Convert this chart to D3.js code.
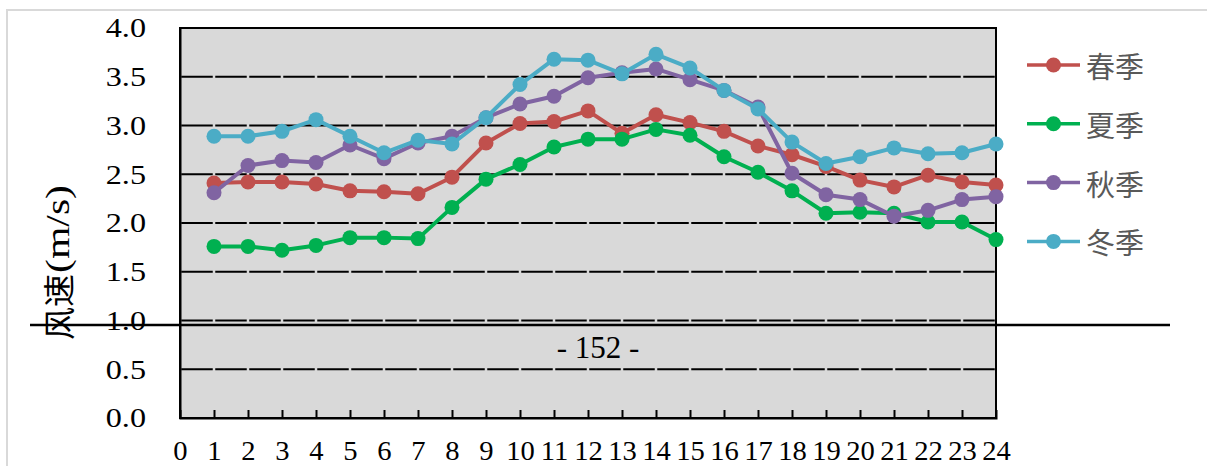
<!DOCTYPE html>
<html>
<head>
<meta charset="utf-8">
<script src="https://cdn.jsdelivr.net/npm/d3@7"></script>
<style>
html,body{margin:0;padding:0;background:#fff;}
svg{display:block;}
</style>
</head>
<body>
<script>
// ---- data ----
const hours = d3.range(1, 25);
const xTickLabels = d3.range(0, 25);
const yTicks = [0, 0.5, 1.0, 1.5, 2.0, 2.5, 3.0, 3.5, 4.0];
const seriesNames = ["春季", "夏季", "秋季", "冬季"];
const spring = [2.41,2.42,2.42,2.40,2.33,2.32,2.30,2.47,2.82,3.02,3.04,3.15,2.92,3.11,3.03,2.94,2.79,2.70,2.58,2.44,2.37,2.49,2.42,2.39];
const summer = [1.76,1.76,1.72,1.77,1.85,1.85,1.84,2.16,2.45,2.60,2.78,2.86,2.86,2.96,2.90,2.68,2.52,2.33,2.10,2.11,2.10,2.01,2.01,1.83];
const autumn = [2.31,2.59,2.64,2.62,2.80,2.66,2.82,2.89,3.08,3.22,3.30,3.49,3.54,3.58,3.47,3.36,3.19,2.51,2.29,2.24,2.07,2.13,2.24,2.27];
const winter = [2.89,2.89,2.94,3.06,2.89,2.72,2.85,2.81,3.08,3.42,3.68,3.67,3.53,3.73,3.59,3.36,3.17,2.83,2.61,2.68,2.77,2.71,2.72,2.81];
const seriesValues = [spring, summer, autumn, winter];
const colors = ["#C0504D", "#00B050", "#8064A2", "#4BACC6"];
const yTitleCJK = "风速";
const yTitleUnit = "(m/s)";
const pageLabel = "- 152 -";

// ---- layout ----
const W = 1207, H = 466;
const L = 180, R = 996, T = 28, B = 418;
const serif = "'Liberation Serif','Times New Roman',serif";
const cjk = "'Noto Sans CJK SC','Noto Sans CJK JP',sans-serif";

const svg = d3.select("body").append("svg").attr("width", W).attr("height", H);

// outer light frame
svg.append("line").attr("x1", 6).attr("x2", W).attr("y1", 10).attr("y2", 10)
  .attr("stroke", "#d9d9d9").attr("stroke-width", 2);
svg.append("line").attr("x1", 7).attr("x2", 7).attr("y1", 9).attr("y2", H)
  .attr("stroke", "#d9d9d9").attr("stroke-width", 2);

const x = d3.scaleLinear().domain([0, 24]).range([L, R]);
const y = d3.scaleLinear().domain([0, 4]).range([B, T]);

// plot background
svg.append("rect").attr("x", L).attr("y", T).attr("width", R - L).attr("height", B - T)
  .attr("fill", "#d9d9d9");

// gridlines
svg.append("g").selectAll("line").data(yTicks.filter(d => d > 0 && d < 4)).join("line")
  .attr("x1", L).attr("x2", R).attr("y1", d => y(d)).attr("y2", d => y(d))
  .attr("stroke", "#000").attr("stroke-width", 2)
  .attr("stroke-dasharray", "31.5,2.5").attr("stroke-dashoffset", -1.25);

// border
svg.append("rect").attr("x", L).attr("y", T).attr("width", R - L).attr("height", B - T)
  .attr("fill", "none").attr("stroke", "#000").attr("stroke-width", 2);

// y axis
const sx = 1.15;
const yAxis = svg.append("g").attr("transform", `translate(${L},0)`)
  .call(d3.axisLeft(y).tickValues(yTicks).tickFormat(d3.format(".1f")).tickSize(0).tickPadding(34));
yAxis.select(".domain").attr("stroke", "#000").attr("stroke-width", 2);
yAxis.selectAll("text")
  .attr("font-family", serif).attr("font-size", 28).attr("fill", "#000")
  .attr("x", -34 / sx).attr("transform", `scale(${sx},1)`);

// x axis
const xAxis = svg.append("g").attr("transform", `translate(0,${B})`)
  .call(d3.axisBottom(x).tickValues(xTickLabels).tickFormat(d3.format("d")).tickSize(-8));
xAxis.select(".domain").attr("stroke", "#000").attr("stroke-width", 2);
xAxis.selectAll(".tick line").attr("stroke", "#000").attr("stroke-width", 2)
  .attr("display", d => (d === 0 || d === 24) ? "none" : null);
xAxis.selectAll("text")
  .attr("font-family", serif).attr("font-size", 27).attr("fill", "#000")
  .attr("y", 42).attr("dy", null).attr("transform", "scale(1.06,1)");

// series
const line = d3.line().x((d, i) => x(hours[i])).y(d => y(d));
seriesValues.forEach((vals, k) => {
  const g = svg.append("g");
  g.append("path").datum(vals).attr("d", line).attr("fill", "none")
    .attr("stroke", colors[k]).attr("stroke-width", 4).attr("stroke-linejoin", "round");
  g.selectAll("circle").data(vals).join("circle")
    .attr("cx", (d, i) => x(hours[i])).attr("cy", d => y(d)).attr("r", 7.5)
    .attr("fill", colors[k]);
});

// page artifact line & number
svg.append("line").attr("x1", 30).attr("x2", 1170).attr("y1", 325).attr("y2", 325)
  .attr("stroke", "#000").attr("stroke-width", 2.5);
svg.append("text").attr("x", 598).attr("y", 358).attr("text-anchor", "middle")
  .attr("font-family", serif).attr("font-size", 31).attr("fill", "#000").text(pageLabel);

// y title (rotated, reading bottom to top)
const yt = svg.append("g").attr("transform", "translate(57,340) rotate(-90)");
yt.append("text").attr("x", 0).attr("y", 0).attr("dominant-baseline", "central")
  .attr("font-family", cjk).attr("font-size", 32).attr("fill", "#000")
  .attr("textLength", 66).attr("lengthAdjust", "spacingAndGlyphs").text(yTitleCJK);
yt.append("text").attr("x", 67).attr("y", 0).attr("dominant-baseline", "central")
  .attr("font-family", serif).attr("font-size", 34).attr("fill", "#000")
  .attr("textLength", 88).attr("lengthAdjust", "spacingAndGlyphs").text(yTitleUnit);

// legend
const lg = svg.append("g");
seriesNames.forEach((name, k) => {
  const cy = 65 + k * 58.8;
  lg.append("line").attr("x1", 1027).attr("x2", 1080).attr("y1", cy).attr("y2", cy)
    .attr("stroke", colors[k]).attr("stroke-width", 3.5);
  lg.append("circle").attr("cx", 1053.5).attr("cy", cy).attr("r", 7.5).attr("fill", colors[k]);
  lg.append("text").attr("x", 1086).attr("y", cy).attr("dominant-baseline", "central")
    .attr("font-family", cjk).attr("font-size", 29).attr("fill", "#595959").text(name);
});
</script>
</body>
</html>
